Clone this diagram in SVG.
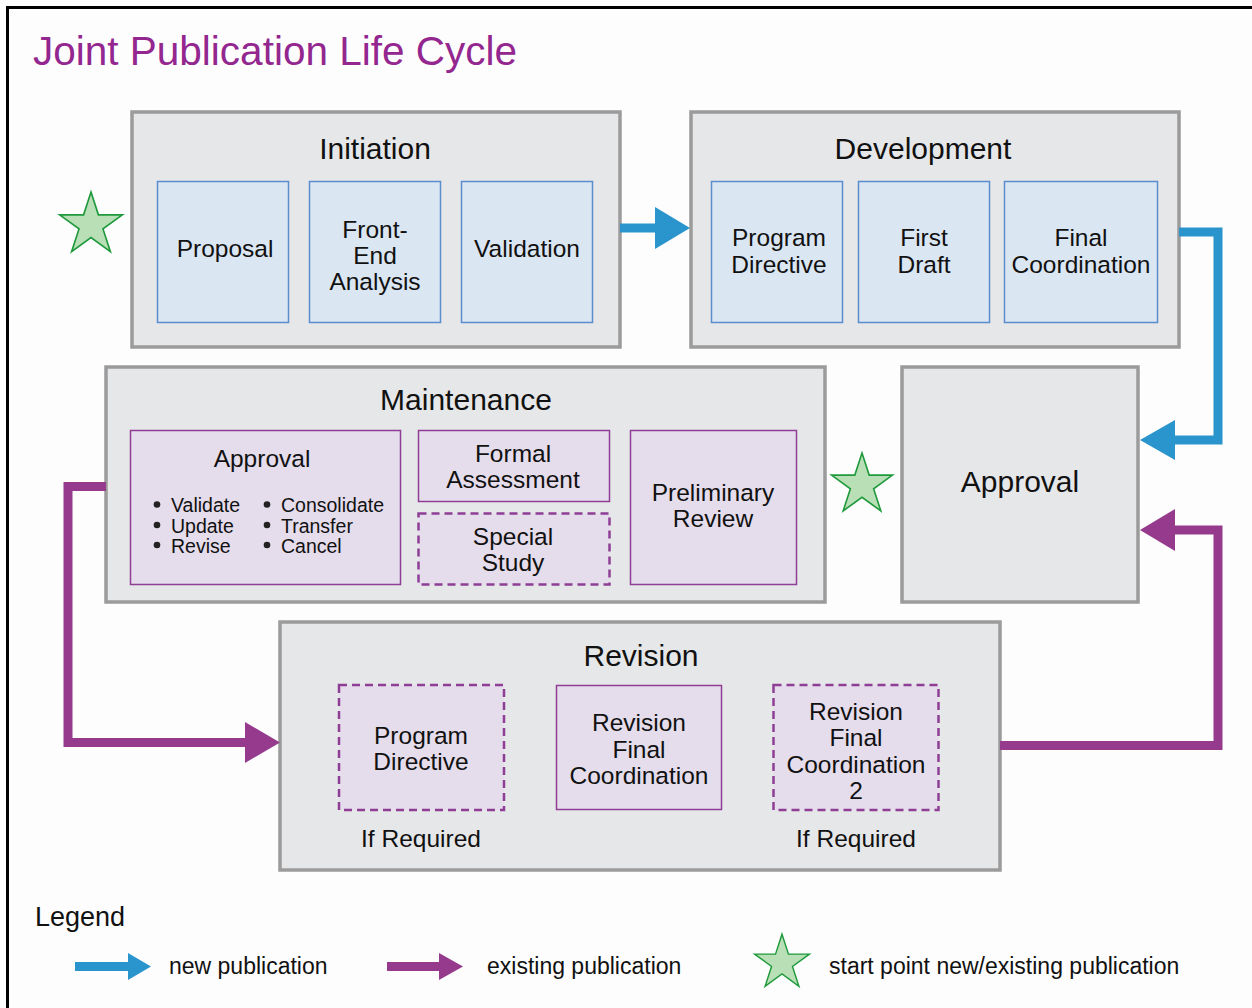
<svg xmlns="http://www.w3.org/2000/svg" width="1252" height="1008" viewBox="0 0 1252 1008">
<style>
text{font-family:"Liberation Sans",Arial,sans-serif;fill:#111;text-anchor:middle}
.title{font-size:40.5px;fill:#93278f;text-anchor:start}
.grp{fill:#e6e7e9;stroke:#9b9b9b;stroke-width:3.5}
.h{font-size:30px}
.t{font-size:24.5px}
.s{font-size:19.5px;text-anchor:start}
.dot{fill:#222}
.blue{fill:#dbe6f3;stroke:#5b8ccc;stroke-width:1.5}
.pur{fill:#e5ddec;stroke:#8e3f95;stroke-width:1.5}
.purd{fill:#e5ddec;stroke:#8e3f95;stroke-width:2.5;stroke-dasharray:8 5}
.cb{fill:none;stroke:#2a94cc;stroke-width:9}
.cp{fill:none;stroke:#963a8e;stroke-width:9}
.star{fill:#b9dfb6;stroke:#1e9a3c;stroke-width:1.6}
.lg{font-size:23px;text-anchor:start}
</style>
<defs>
<path id="starp" d="M0,-32 L7.19,-9.89 L30.43,-9.89 L11.63,3.78 L18.81,25.89 L0,12.23 L-18.81,25.89 L-11.63,3.78 L-30.43,-9.89 L-7.19,-9.89 Z"/>
</defs>
<rect x="0" y="0" width="1252" height="1008" fill="#fdfdfd"/>
<rect x="7.5" y="7.5" width="1262" height="1012" fill="none" stroke="#000" stroke-width="3"/>
<text class="title" x="33" y="65">Joint Publication Life Cycle</text>

<g id="initiation">
<rect class="grp" x="132" y="112" width="488" height="235"/>
<text class="h" x="375" y="159">Initiation</text>
<rect class="blue" x="157.5" y="181.5" width="131" height="141"/>
<text class="t" x="225" y="257">Proposal</text>
<rect class="blue" x="309.5" y="181.5" width="131" height="141"/>
<text class="t" x="375" y="238">Front-</text>
<text class="t" x="375" y="264">End</text>
<text class="t" x="375" y="290">Analysis</text>
<rect class="blue" x="461.5" y="181.5" width="131" height="141"/>
<text class="t" x="527" y="257">Validation</text>
</g>

<g id="development">
<rect class="grp" x="691" y="112" width="488" height="235"/>
<text class="h" x="923" y="159">Development</text>
<rect class="blue" x="711.5" y="181.5" width="131" height="141"/>
<text class="t" x="779" y="246">Program</text>
<text class="t" x="779" y="273">Directive</text>
<rect class="blue" x="858.5" y="181.5" width="131" height="141"/>
<text class="t" x="924" y="246">First</text>
<text class="t" x="924" y="273">Draft</text>
<rect class="blue" x="1004.5" y="181.5" width="153" height="141"/>
<text class="t" x="1081" y="246">Final</text>
<text class="t" x="1081" y="273">Coordination</text>
</g>

<g id="maintenance">
<rect class="grp" x="106" y="367" width="719" height="235"/>
<text class="h" x="466" y="410">Maintenance</text>
<rect class="pur" x="130.5" y="430.5" width="270" height="154"/>
<text class="t" x="262" y="467">Approval</text>
<circle class="dot" cx="157" cy="504.5" r="3.3"/>
<circle class="dot" cx="157" cy="525" r="3.3"/>
<circle class="dot" cx="157" cy="545" r="3.3"/>
<text class="s" x="171" y="512">Validate</text>
<text class="s" x="171" y="533">Update</text>
<text class="s" x="171" y="553">Revise</text>
<circle class="dot" cx="267" cy="504.5" r="3.3"/>
<circle class="dot" cx="267" cy="525" r="3.3"/>
<circle class="dot" cx="267" cy="545" r="3.3"/>
<text class="s" x="281" y="512">Consolidate</text>
<text class="s" x="281" y="533">Transfer</text>
<text class="s" x="281" y="553">Cancel</text>
<rect class="pur" x="418.5" y="430.5" width="191" height="71"/>
<text class="t" x="513" y="462">Formal</text>
<text class="t" x="513" y="488">Assessment</text>
<rect class="purd" x="418.5" y="513.5" width="191" height="71"/>
<text class="t" x="513" y="545">Special</text>
<text class="t" x="513" y="571">Study</text>
<rect class="pur" x="630.5" y="430.5" width="166" height="154"/>
<text class="t" x="713" y="501">Preliminary</text>
<text class="t" x="713" y="527">Review</text>
</g>

<g id="approval">
<rect class="grp" x="902" y="367" width="236" height="235"/>
<text class="h" x="1020" y="492">Approval</text>
</g>

<g id="revision">
<rect class="grp" x="280" y="622" width="720" height="248"/>
<text class="h" x="641" y="666">Revision</text>
<rect class="purd" x="339" y="685" width="165" height="125"/>
<text class="t" x="421" y="744">Program</text>
<text class="t" x="421" y="770">Directive</text>
<rect class="pur" x="556.5" y="685.5" width="165" height="124"/>
<text class="t" x="639" y="731">Revision</text>
<text class="t" x="639" y="758">Final</text>
<text class="t" x="639" y="784">Coordination</text>
<rect class="purd" x="773.5" y="685" width="165" height="125"/>
<text class="t" x="856" y="720">Revision</text>
<text class="t" x="856" y="746">Final</text>
<text class="t" x="856" y="773">Coordination</text>
<text class="t" x="856" y="799">2</text>
<text class="t" x="421" y="847">If Required</text>
<text class="t" x="856" y="847">If Required</text>
</g>

<g id="stars">
<use href="#starp" class="star" transform="translate(91,225) scale(1.03)"/>
<use href="#starp" class="star" transform="translate(862,485) scale(1)"/>
</g>

<g id="connectors">
<path class="cb" d="M620,228 H656"/>
<polygon fill="#2a94cc" points="655,207 690,228 655,249"/>
<path class="cb" d="M1179,232 H1218 V440 H1174"/>
<polygon fill="#2a94cc" points="1175,420 1140,440 1175,460"/>
<path class="cp" d="M1000,745.5 H1218 V530 H1174"/>
<polygon fill="#963a8e" points="1175,509 1140,530 1175,551"/>
<path class="cp" d="M106,486.5 H68 V742.5 H246"/>
<polygon fill="#963a8e" points="245,722 280,742.5 245,763"/>
</g>

<g id="legend">
<text x="35" y="926" style="font-size:27px;text-anchor:start">Legend</text>
<path class="cb" d="M75,966.5 H130"/>
<polygon fill="#2a94cc" points="128,953 151,966.5 128,980"/>
<text class="lg" x="169" y="974">new publication</text>
<path class="cp" d="M387,966.5 H441"/>
<polygon fill="#963a8e" points="439,953 463,966.5 439,980"/>
<text class="lg" x="487" y="974">existing publication</text>
<use href="#starp" class="star" transform="translate(782,963) scale(0.9)"/>
<text class="lg" x="829" y="974">start point new/existing publication</text>
</g>
</svg>
